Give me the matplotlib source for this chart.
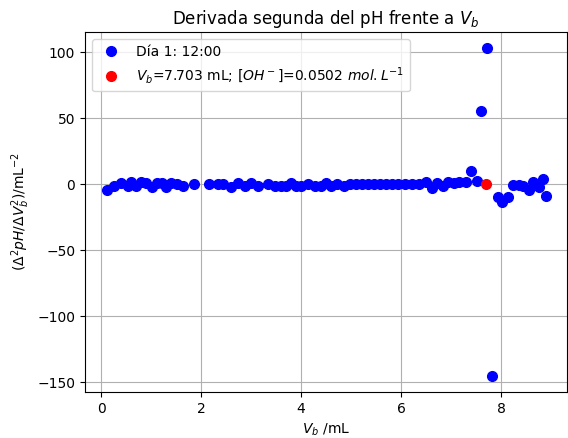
import matplotlib
matplotlib.use("Agg")
import matplotlib.pyplot as plt

# segunda derivada del pH (puntos medios de volumen)
vb = [0.12, 0.26, 0.40, 0.54, 0.60, 0.70, 0.80, 0.90, 1.02, 1.12, 1.22, 1.30,
      1.40, 1.52, 1.64, 1.86, 2.16, 2.34, 2.44, 2.60, 2.74, 2.88, 3.00, 3.14,
      3.34, 3.48, 3.60, 3.70, 3.80, 3.90, 4.00, 4.14, 4.28, 4.40, 4.50, 4.60,
      4.72, 4.86, 4.98, 5.10, 5.22, 5.34, 5.46, 5.58, 5.70, 5.82, 5.94, 6.08,
      6.22, 6.36, 6.50, 6.62, 6.72, 6.84, 6.94, 7.06, 7.16, 7.30, 7.41, 7.53,
      7.61, 7.72, 7.83, 7.95, 8.03, 8.13, 8.23, 8.36, 8.45, 8.55, 8.63, 8.75,
      8.83, 8.90]
d2ph = [-4.5, -1.5, 1.0, -1.0, 1.5, -1.5, 1.5, 1.0, -2.0, 1.0, 1.0, -2.0,
        1.0, 0.0, -1.5, 0.0, 0.0, 0.0, 0.0, -2.0, 1.0, -1.5, 1.0, -1.5,
        0.0, -1.0, -1.0, -1.0, 1.0, -1.0, -1.5, 0.0, -1.0, -1.0, 1.0, -1.5,
        0.0, -1.0, 0.0, 0.0, 0.0, 0.0, 0.0, 0.0, 0.0, 0.0, 0.5, 0.0,
        0.0, 0.0, 1.5, -3.0, 1.0, -1.5, 1.5, 1.0, 1.5, 1.5, 10.0, 2.3,
        55.6, 103.7, -145.0, -9.6, -13.4, -9.6, -0.8, -0.8, -1.5, -4.5, 1.8, -2.0,
        4.3, -9.0]

vb_eq = 7.703
d2ph_eq = 0.0
conc_oh = 0.0502

fig = plt.figure(figsize=(5.68, 4.38), dpi=100)
ax = fig.add_axes([85 / 568, 1 - 392 / 438, 482 / 568, 360 / 438])

ax.plot(vb, d2ph, "o", color="blue", markersize=7, label="Día 1: 12:00")
ax.plot([vb_eq], [d2ph_eq], "o", color="red", markersize=7,
        label=r"$V_b$=%.3f mL; $[OH^-]$=%.4f $mol.L^{-1}$" % (vb_eq, conc_oh))

ax.set_xlim(-0.32, 9.32)
ax.set_ylim(-157.5, 115.5)
ax.set_xticks([0, 2, 4, 6, 8])
ax.set_yticks([-150, -100, -50, 0, 50, 100])
ax.grid(True)

ax.set_title(r"Derivada segunda del pH frente a $V_b$", fontsize=12)
ax.set_xlabel(r"$V_b$ /mL")
ax.set_ylabel(r"$(\Delta^2 pH/\Delta V_b^2)$/mL$^{-2}$")
ax.legend(loc="upper left")

fig.savefig("out.png", dpi=100)
